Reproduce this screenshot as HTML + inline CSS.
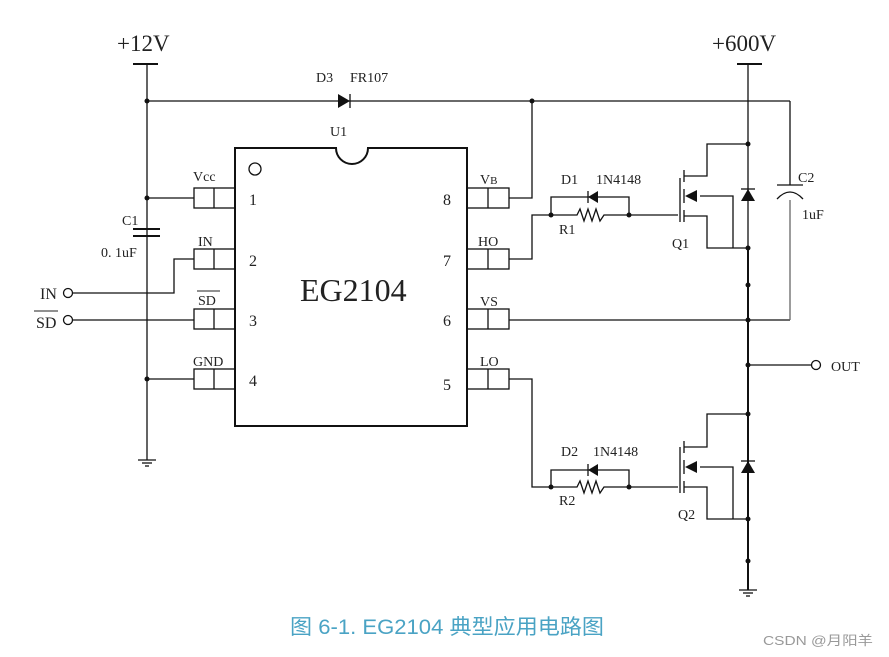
<!DOCTYPE html>
<html><head><meta charset="utf-8"><style>
body{margin:0;background:#fff;}
svg{display:block}
text{font-family:"Liberation Serif","Noto Serif CJK SC",serif;fill:#222;}
</style></head><body>
<svg width="889" height="657" viewBox="0 0 889 657" xmlns="http://www.w3.org/2000/svg">
<g stroke="#111" stroke-width="1.3" fill="none">
<line x1="133" y1="64" x2="158" y2="64" stroke-width="2"/>
<line x1="147" y1="64" x2="147" y2="460"/>
<line x1="138" y1="460" x2="156" y2="460"/><line x1="142" y1="463" x2="152" y2="463"/><line x1="145" y1="466" x2="149" y2="466"/>
<line x1="147" y1="101" x2="790" y2="101"/>
<line x1="790" y1="101" x2="790" y2="185"/>
<line x1="350" y1="94" x2="350" y2="108"/>
<line x1="737" y1="64" x2="762" y2="64" stroke-width="2"/>
<line x1="748" y1="64" x2="748" y2="248"/>
<line x1="748" y1="248" x2="748" y2="590" stroke-width="2"/>
<line x1="739" y1="590" x2="757" y2="590"/><line x1="743" y1="593" x2="753" y2="593"/><line x1="746" y1="596" x2="750" y2="596"/>
<path d="M235 148 H336 A16 16 0 0 0 368 148 H467 V426 H235 Z" stroke-width="2"/>
<circle cx="255" cy="169" r="6"/>
<rect x="194" y="188" width="41" height="20"/><line x1="214" y1="188" x2="214" y2="208"/>
<rect x="194" y="249" width="41" height="20"/><line x1="214" y1="249" x2="214" y2="269"/>
<rect x="194" y="309" width="41" height="20"/><line x1="214" y1="309" x2="214" y2="329"/>
<rect x="194" y="369" width="41" height="20"/><line x1="214" y1="369" x2="214" y2="389"/>
<rect x="467" y="188" width="42" height="20"/><line x1="488" y1="188" x2="488" y2="208"/>
<rect x="467" y="249" width="42" height="20"/><line x1="488" y1="249" x2="488" y2="269"/>
<rect x="467" y="309" width="42" height="20"/><line x1="488" y1="309" x2="488" y2="329"/>
<rect x="467" y="369" width="42" height="20"/><line x1="488" y1="369" x2="488" y2="389"/>
<line x1="147" y1="198" x2="194" y2="198"/>
<line x1="147" y1="379" x2="194" y2="379"/>
<line x1="133" y1="229" x2="160" y2="229" stroke-width="2"/>
<line x1="133" y1="236" x2="160" y2="236" stroke-width="2"/>
<circle cx="68" cy="293" r="4.5"/><polyline points="73,293 174,293 174,259 194,259"/>
<circle cx="68" cy="320" r="4.5"/><line x1="73" y1="320" x2="194" y2="320"/>
<polyline points="509,198 532,198 532,101"/>
<line x1="509" y1="320" x2="790" y2="320"/>
<polyline points="790,200 790,320" stroke="#666"/>
<line x1="777" y1="185" x2="803" y2="185"/>
<path d="M777 199 Q790 185 803 199"/>
<polyline points="509,259 532,259 532,215 551,215"/>
<polyline points="551,215 551,197 629,197 629,215"/>
<polyline points="551,215 577,215 580,209 584,221 588,209 592,221 596,209 600,221 604,215 629,215"/>
<line x1="629" y1="215" x2="678" y2="215"/>
<line x1="680" y1="178" x2="680" y2="222"/>
<line x1="684" y1="170" x2="684" y2="182"/><line x1="684" y1="189" x2="684" y2="203"/><line x1="684" y1="210" x2="684" y2="222"/>
<polyline points="684,176 707,176 707,144 748,144"/>
<polyline points="700,196 733,196 733,248"/>
<polyline points="684,216 707,216 707,248 748,248"/>
<polyline points="509,379 532,379 532,487 551,487"/>
<polyline points="551,487 551,470 629,470 629,487"/>
<polyline points="551,487 577,487 580,481 584,493 588,481 592,493 596,481 600,493 604,487 629,487"/>
<line x1="629" y1="487" x2="678" y2="487"/>
<line x1="680" y1="447" x2="680" y2="493"/>
<line x1="684" y1="441" x2="684" y2="453"/><line x1="684" y1="460" x2="684" y2="474"/><line x1="684" y1="481" x2="684" y2="493"/>
<polyline points="684,447 707,447 707,414 748,414"/>
<polyline points="700,467 733,467 733,519"/>
<polyline points="684,487 707,487 707,519 748,519"/>
<line x1="748" y1="365" x2="812" y2="365"/>
<circle cx="816" cy="365" r="4.5"/>
<line x1="741" y1="189" x2="755" y2="189"/>
<line x1="741" y1="461" x2="755" y2="461"/>
<line x1="588" y1="191" x2="588" y2="203"/>
<line x1="588" y1="464" x2="588" y2="476"/>
</g>
<g fill="#111">
<polygon points="338,94 338,108 350,101"/>
<polygon points="588,197 598,191 598,203"/>
<polygon points="588,470 598,464 598,476"/>
<polygon points="685,196 697,190 697,202"/>
<polygon points="685,467 697,461 697,473"/>
<polygon points="748,189 741,201 755,201"/>
<polygon points="748,461 741,473 755,473"/>
<circle cx="147" cy="101" r="2.5"/><circle cx="532" cy="101" r="2.5"/>
<circle cx="147" cy="198" r="2.5"/><circle cx="147" cy="379" r="2.5"/>
<circle cx="551" cy="215" r="2.5"/><circle cx="629" cy="215" r="2.5"/>
<circle cx="551" cy="487" r="2.5"/><circle cx="629" cy="487" r="2.5"/>
<circle cx="748" cy="144" r="2.5"/><circle cx="748" cy="248" r="2.5"/>
<circle cx="748" cy="285" r="2.5"/><circle cx="748" cy="320" r="2.5"/>
<circle cx="748" cy="365" r="2.5"/><circle cx="748" cy="414" r="2.5"/>
<circle cx="748" cy="519" r="2.5"/><circle cx="748" cy="561" r="2.5"/>
</g>
<g font-size="14">
<text x="117" y="51" font-size="23">+12V</text>
<text x="712" y="51" font-size="23">+600V</text>
<text x="316" y="82">D3</text><text x="350" y="82">FR107</text>
<text x="330" y="136">U1</text>
<text x="193" y="181">Vcc</text>
<text x="198" y="246">IN</text>
<text x="198" y="305">SD</text><line x1="197" y1="291" x2="220" y2="291" stroke="#222" stroke-width="1"/>
<text x="193" y="366">GND</text>
<text x="249" y="205" font-size="16">1</text>
<text x="249" y="266" font-size="16">2</text>
<text x="249" y="326" font-size="16">3</text>
<text x="249" y="386" font-size="16">4</text>
<text x="443" y="205" font-size="16">8</text>
<text x="443" y="266" font-size="16">7</text>
<text x="443" y="326" font-size="16">6</text>
<text x="443" y="390" font-size="16">5</text>
<text x="480" y="184">V<tspan font-size="11">B</tspan></text>
<text x="478" y="246">HO</text>
<text x="480" y="306">VS</text>
<text x="480" y="366">LO</text>
<text x="122" y="225">C1</text>
<text x="101" y="257">0. 1uF</text>
<text x="40" y="299" font-size="16">IN</text>
<text x="36" y="328" font-size="16">SD</text><line x1="34" y1="311" x2="58" y2="311" stroke="#222" stroke-width="1"/>
<text x="300" y="301" font-size="32">EG2104</text>
<text x="561" y="184">D1</text><text x="596" y="184">1N4148</text>
<text x="559" y="234">R1</text>
<text x="672" y="248">Q1</text>
<text x="798" y="182">C2</text>
<text x="802" y="219">1uF</text>
<text x="831" y="371">OUT</text>
<text x="561" y="456">D2</text><text x="593" y="456">1N4148</text>
<text x="559" y="505">R2</text>
<text x="678" y="519">Q2</text>
</g>
<text x="290" y="634" font-size="21" textLength="314" lengthAdjust="spacingAndGlyphs" style="font-family:'Liberation Sans','Noto Sans CJK SC',sans-serif;fill:#4aa3c4">图 6-1. EG2104 典型应用电路图</text>
<text x="763" y="645" font-size="13" textLength="110" lengthAdjust="spacingAndGlyphs" style="font-family:'Liberation Sans','Noto Sans CJK SC',sans-serif;fill:#999">CSDN @月阳羊</text>
</svg>
</body></html>
